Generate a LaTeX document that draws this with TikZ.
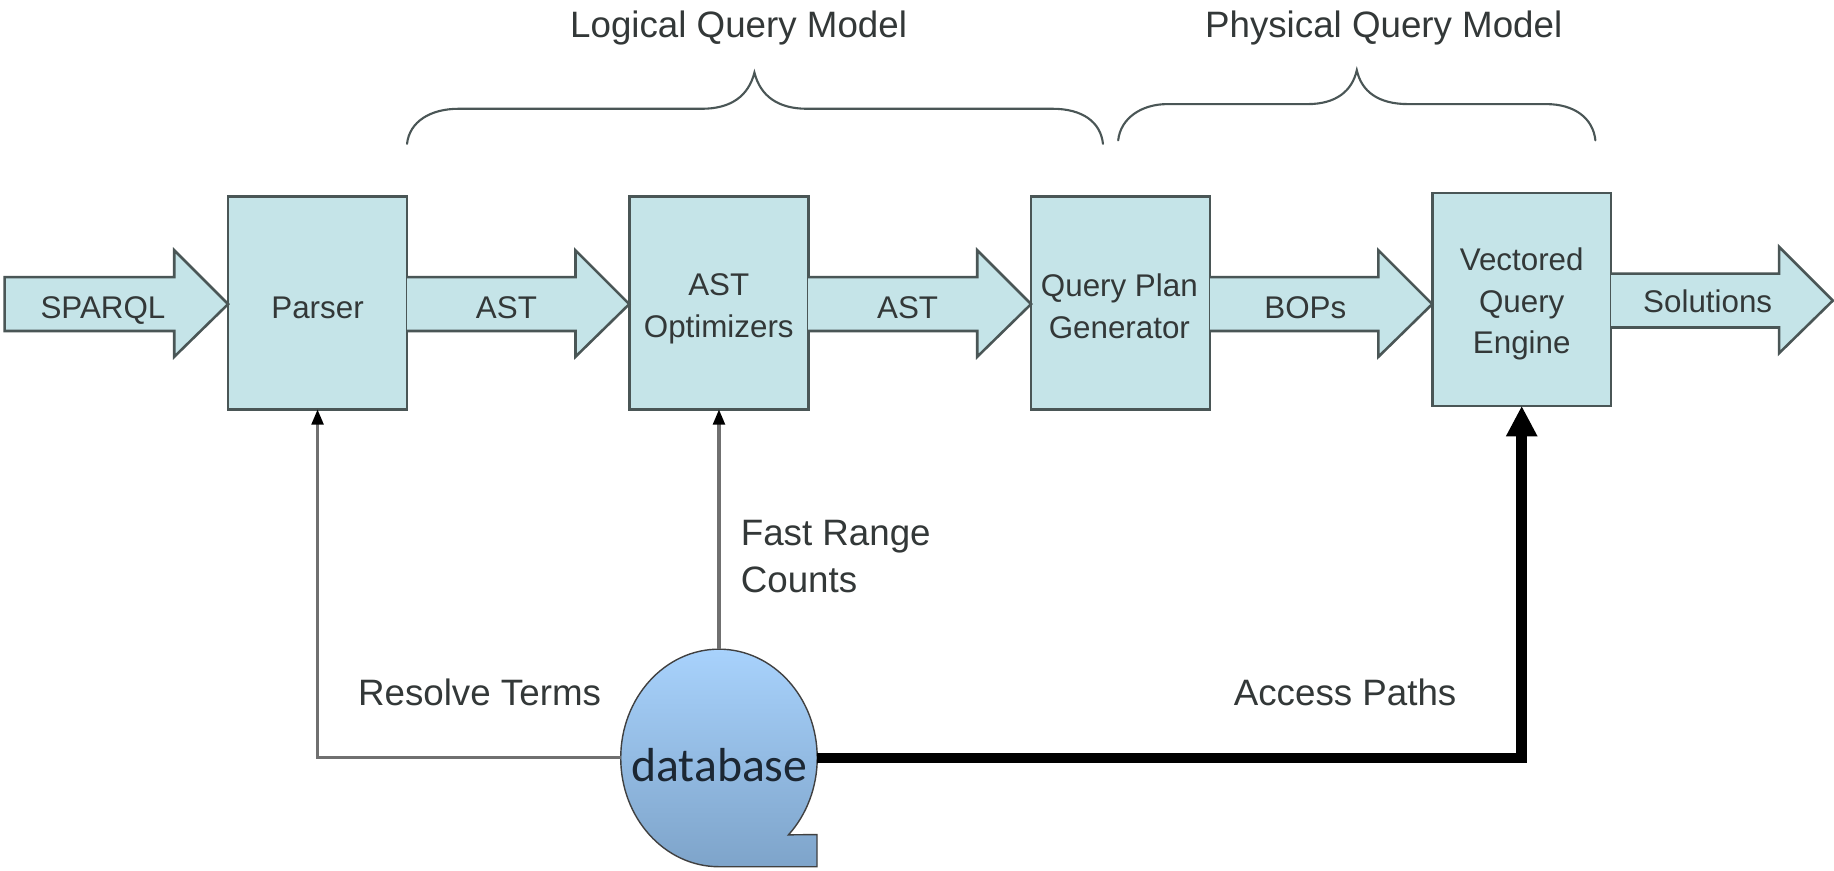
\documentclass[tikz,border=0pt]{standalone}
\usepackage{fontspec}
\setmainfont{Liberation Sans}
\newfontfamily\dbfont{Carlito}
\usetikzlibrary{calc,shapes.geometric,arrows.meta}
\definecolor{boxfill}{HTML}{C5E4E8}
\definecolor{boxline}{HTML}{4A5656}
\definecolor{txt}{HTML}{333838}
\definecolor{conn}{HTML}{707070}
\definecolor{dbtop}{HTML}{A8D2FC}
\definecolor{dbbot}{HTML}{7EA4CA}
\definecolor{dbtxt}{HTML}{1C2733}
\tikzset{
  x=0.5pt,y=-0.5pt,
  procbox/.style={draw=boxline,fill=boxfill,line width=1.1pt,minimum width=76.5pt,minimum height=91pt,
    inner sep=0pt,outer sep=0pt},
  boxtext/.style={align=center,text=txt,inner sep=0pt,font=\fontsize{13.4}{17.8}\selectfont},
  fatshape/.style={draw=boxline,fill=boxfill,line width=1.1pt,line join=miter},
  fatlabel/.style={text=txt,inner sep=0pt,font=\fontsize{13.4}{17.8}\selectfont},
  biglabel/.style={text=txt,inner sep=0pt,align=left,font=\fontsize{15.7}{20}\selectfont},
  thinconn/.style={draw=conn,line width=1.3pt,-{Triangle[black,length=6.5pt,width=5pt]}},
  thickconn/.style={draw=black,line width=4.5pt,-{Triangle[black,length=13pt,width=12.5pt]}},
  bracepath/.style={draw=boxline,line width=0.9pt,line cap=round},
}
\newcommand{\fatarrow}[3]{%
  \path let \p1=(#1), \p2=(#2) in
    coordinate (ta) at (\x1,\y1)
    coordinate (tb) at (\x2,\y1);
  \draw[fatshape]
    ($(ta)+(0,-22)$) -- ($(tb)+(-46,-22)$) -- ($(tb)+(-46,-45)$) -- ($(tb)+(0,1)$)
    -- ($(tb)+(-46,46)$) -- ($(tb)+(-46,24)$) -- ($(ta)+(0,24)$) #3;
}
\begin{document}
\begin{tikzpicture}
\useasboundingbox[fill=white] (0,0) rectangle (1568,744);

\node[procbox] (parser) at (271.5,259) {};
\node[procbox] (opt) at (614.5,259) {};
\node[procbox] (qpg) at (958,259) {};
\node[procbox] (vqe) at (1301,256) {};
\node[boxtext] (tparser) at (271.5,263) {Parser};
\node[boxtext] (topt) at (614.5,264) {AST\\Optimizers};
\node[boxtext] (tqpg) at (957,262) {Query Plan\\Generator};
\node[boxtext] (tvqe) at (1301,260) {Vectored\\Query\\Engine};

\coordinate (sparqlStart) at (4,259);
\coordinate (solEnd) at (1567,256);

\fatarrow{sparqlStart}{parser.west}{-- cycle}
\fatarrow{parser.east}{opt.west}{}
\fatarrow{opt.east}{qpg.west}{}
\fatarrow{qpg.east}{vqe.west}{}
\fatarrow{vqe.east}{solEnd}{}

\node[fatlabel] (lsparql) at (88,265.5) {SPARQL};
\node[fatlabel] (last) at (433,263) {AST};
\node[fatlabel] (last2) at (776,263) {AST};
\node[fatlabel] (lbops) at (1116,263) {BOPs};
\node[fatlabel] (lsol) at (1460,258) {Solutions};

% database
\draw[draw=black!75,line width=0.6pt,top color=dbtop,bottom color=dbbot]
  (614.7,741) arc[x radius=84,y radius=93,start angle=90,end angle=405]
  -- (698.5,713.5) -- (698.5,741) -- cycle;
\node[ellipse,minimum width=84pt,minimum height=93pt,inner sep=0pt,outer sep=0pt] (db) at (614.7,648) {};
\node[inner sep=0pt,text=dbtxt,font=\dbfont\fontsize{20.4}{24}\selectfont] (dbtext) at (615,654) {database};

\draw[thinconn] (db.west) -| (parser.south);
\draw[thinconn] (db.north) -- (db.north |- opt.south);
\draw[thickconn] (db.east) -| (vqe.south);

\node[biglabel,anchor=west] (fast) at (633,476) {Fast Range\\Counts};
\node[biglabel] (resolve) at (410,592) {Resolve Terms};
\node[biglabel] (access) at (1150,592) {Access Paths};
\node[biglabel] (logical) at (631.5,24) {Logical Query Model};
\node[biglabel] (physical) at (1183,24) {Physical Query Model};

% braces
\draw[bracepath] (348,123) .. controls (350,104) and (368,93) .. (392,93)
  -- (600,93) .. controls (625,93) and (640,82) .. (645,62)
  .. controls (650,82) and (665,93) .. (690,93) -- (900,93)
  .. controls (925,93) and (941,104) .. (943,123);
\draw[bracepath] (956,120) .. controls (958,101) and (976,89) .. (998,89)
  -- (1118,89) .. controls (1142,89) and (1156,78) .. (1160,60)
  .. controls (1164,78) and (1178,89) .. (1204,89) -- (1322,89)
  .. controls (1346,89) and (1362,101) .. (1364,120);
\end{tikzpicture}
\end{document}
